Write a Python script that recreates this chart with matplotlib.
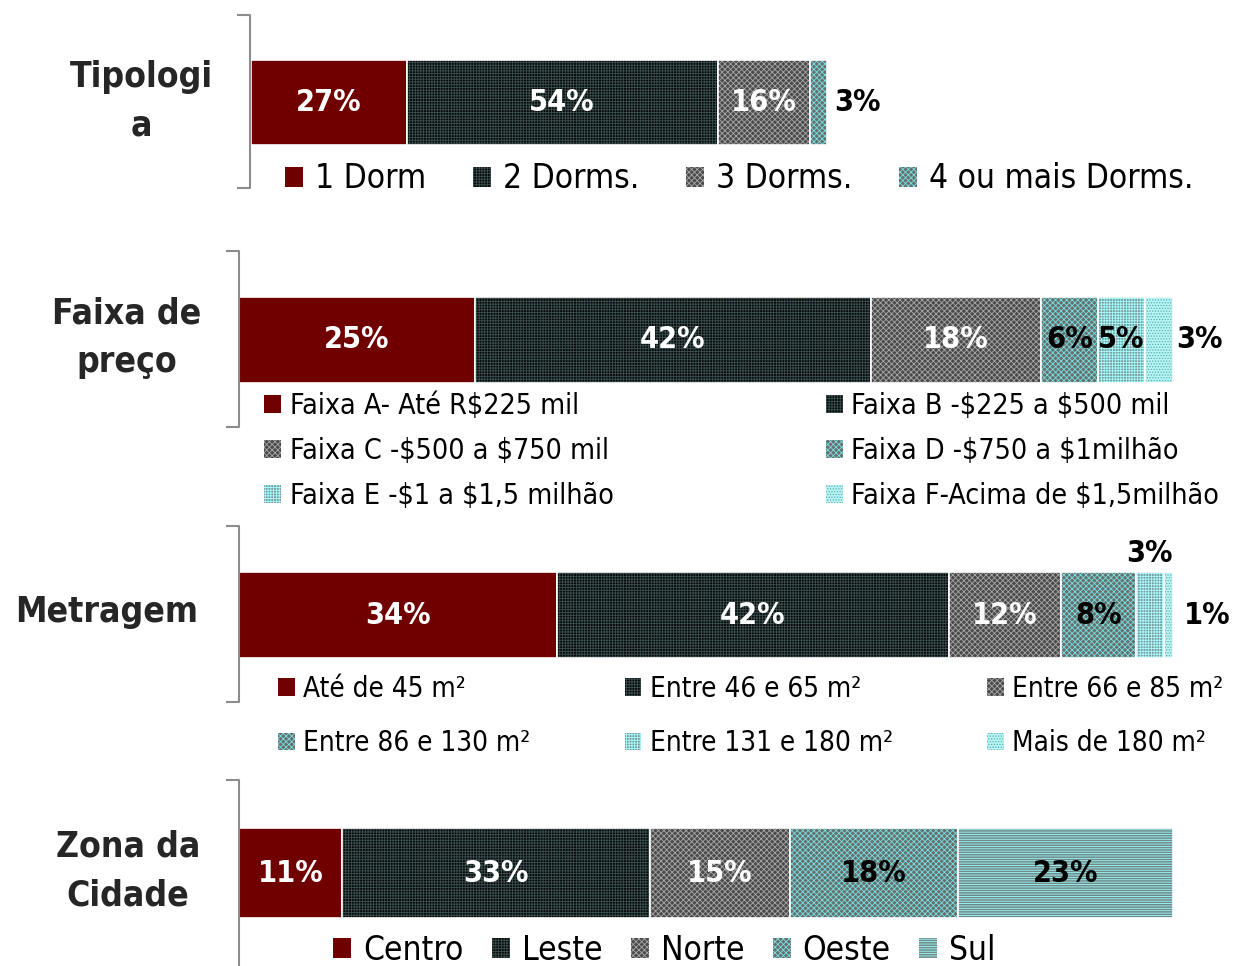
import matplotlib
matplotlib.use("Agg")
import matplotlib.pyplot as plt
from matplotlib.lines import Line2D

plt.rcParams['font.family'] = ['DejaVu Sans']
plt.rcParams['font.stretch'] = 'condensed'
plt.rcParams['text.parse_math'] = False
plt.rcParams['hatch.linewidth'] = 0.6

# data
tipologia_labels = ['1 Dorm', '2 Dorms.', '3 Dorms.', '4 ou mais Dorms.']
tipologia_vals = [27, 54, 16, 3]

preco_labels = ['Faixa A- Até R$225 mil', 'Faixa B -$225 a $500 mil',
                'Faixa C -$500 a $750 mil', 'Faixa D -$750 a $1milhão',
                'Faixa E -$1 a $1,5 milhão', 'Faixa F-Acima de $1,5milhão']
preco_vals = [25, 42, 18, 6, 5, 3]

metragem_labels = ['Até de 45 m²', 'Entre 46 e 65 m²', 'Entre 66 e 85 m²',
                   'Entre 86 e 130 m²', 'Entre 131 e 180 m²', 'Mais de 180 m²']
metragem_vals = [34, 42, 12, 8, 3, 1]

zona_labels = ['Centro', 'Leste', 'Norte', 'Oeste', 'Sul']
zona_vals = [11, 33, 15, 18, 23]

# styles: (face, hatch, hatch colour)
RED = ('#700000', None, '#700000')
BLK = ('#080808', '++++++', '#3a5050')
GRY = ('#4a4a4a', 'xxxxxx', '#a8a8a8')
CYG = ('#686e6e', 'xxxxxx', '#78e0e0')
CYL = ('#7a9c9c', '++++++', '#a8ffff')
CYD = ('#b8f4f4', '......', '#55b0b0')
CYH = ('#708888', '-------', '#a0ffff')

W, H = 1235, 966
fig = plt.figure(figsize=(W / 100, H / 100), dpi=100)


def px_axes(x0, y0, x1, y1):
    ax = fig.add_axes([x0 / W, 1 - y1 / H, (x1 - x0) / W, (y1 - y0) / H])
    ax.axis('off')
    return ax


def bracket(x, y0, y1):
    fig.add_artist(Line2D([(x - 12) / W, x / W, x / W, (x - 12) / W],
                          [1 - y0 / H, 1 - y0 / H, 1 - y1 / H, 1 - y1 / H],
                          transform=fig.transFigure, color='#8c8c8c', lw=1.5))


def draw_bar(ax, vals, styles):
    left = 0
    patches = []
    for v, (fc, hatch, hc) in zip(vals, styles):
        b = ax.barh(0.5, v, left=left, height=1, color=fc, hatch=hatch,
                    edgecolor=hc, linewidth=0)
        ax.barh(0.5, v, left=left, height=1, facecolor='none',
                edgecolor='white', linewidth=1.2)
        patches.append(b[0])
        left += v
    ax.set_xlim(0, sum(vals))
    ax.set_ylim(0, 1)
    return patches


def seg_centers(vals):
    out, left = [], 0
    for v in vals:
        out.append(left + v / 2)
        left += v
    return out


def title(x, y, s):
    fig.text(x / W, 1 - y / H, s, ha='center', va='center', fontsize=25.5,
             fontweight='bold', color='#262626', linespacing=1.55)


VFS = 22

# ---- Tipologia
title(141, 101, 'Tipologi\na')
bracket(250, 15, 188)
ax1 = px_axes(251, 60, 827, 145)
st1 = [RED, BLK, GRY, CYG]
h1 = draw_bar(ax1, tipologia_vals, st1)
for i, (c, v) in enumerate(zip(seg_centers(tipologia_vals), tipologia_vals)):
    if i < 3:
        ax1.text(c, 0.5, f'{v}%', ha='center', va='center', color='white',
                 fontsize=VFS, fontweight='bold')
    else:
        ax1.text(sum(tipologia_vals) + 1.2, 0.5, f'{v}%', ha='left', va='center',
                 color='black', fontsize=VFS, fontweight='bold', clip_on=False)
fig.legend(h1, tipologia_labels, loc='center left', bbox_to_anchor=(285 / W, 1 - 179 / H),
           ncol=4, frameon=False, fontsize=24, handlelength=0.55, handleheight=0.55,
           handletextpad=0.35, columnspacing=1.4, borderpad=0, borderaxespad=0)

# ---- Faixa de preco
title(127, 338, 'Faixa de\npreço')
bracket(239, 251, 427)
ax2 = px_axes(239, 297, 1173, 383)
st2 = [RED, BLK, GRY, CYG, CYL, CYD]
h2 = draw_bar(ax2, preco_vals, st2)
for i, (c, v) in enumerate(zip(seg_centers(preco_vals), preco_vals)):
    if i < 3:
        ax2.text(c, 0.5, f'{v}%', ha='center', va='center', color='white',
                 fontsize=VFS, fontweight='bold')
    elif i < 5:
        ax2.text(c, 0.5, f'{v}%', ha='center', va='center', color='black',
                 fontsize=VFS, fontweight='bold')
    else:
        ax2.text(sum(preco_vals) + 0.3, 0.5, f'{v}%', ha='left', va='center',
                 color='black', fontsize=VFS, fontweight='bold', clip_on=False)
order2 = [0, 2, 4, 1, 3, 5]
fig.legend([h2[i] for i in order2], [preco_labels[i] for i in order2],
           loc='center left', bbox_to_anchor=(264 / W, 1 - 451 / H), ncol=2,
           frameon=False, fontsize=20.5, handlelength=0.6, handleheight=0.6,
           handletextpad=0.3, columnspacing=7.45, labelspacing=0.6,
           borderpad=0, borderaxespad=0)

# ---- Metragem
title(107, 612, 'Metragem')
bracket(239, 526, 702)
ax3 = px_axes(239, 572, 1173, 658)
st3 = [RED, BLK, GRY, CYG, CYL, CYD]
h3 = draw_bar(ax3, metragem_vals, st3)
cen3 = seg_centers(metragem_vals)
for i, (c, v) in enumerate(zip(cen3, metragem_vals)):
    if i < 3:
        ax3.text(c, 0.5, f'{v}%', ha='center', va='center', color='white',
                 fontsize=VFS, fontweight='bold')
    elif i == 3:
        ax3.text(c, 0.5, f'{v}%', ha='center', va='center', color='black',
                 fontsize=VFS, fontweight='bold')
    elif i == 4:
        ax3.text(c, 1.22, f'{v}%', ha='center', va='center', color='black',
                 fontsize=VFS, fontweight='bold', clip_on=False)
    else:
        ax3.text(sum(metragem_vals) + 1.2, 0.5, f'{v}%', ha='left', va='center',
                 color='black', fontsize=VFS, fontweight='bold', clip_on=False)
order3 = [0, 3, 1, 4, 2, 5]
fig.legend([h3[i] for i in order3], [metragem_labels[i] for i in order3],
           loc='center left', bbox_to_anchor=(278 / W, 1 - 716 / H), ncol=3,
           frameon=False, fontsize=20, handlelength=0.6, handleheight=0.6,
           handletextpad=0.3, columnspacing=3.4, labelspacing=0.95,
           borderpad=0, borderaxespad=0)

# ---- Zona da Cidade
title(128, 871, 'Zona da\nCidade')
bracket(239, 780, 975)
ax4 = px_axes(239, 828, 1173, 918)
st4 = [RED, BLK, GRY, CYG, CYH]
h4 = draw_bar(ax4, zona_vals, st4)
for i, (c, v) in enumerate(zip(seg_centers(zona_vals), zona_vals)):
    ax4.text(c, 0.5, f'{v}%', ha='center', va='center',
             color='white' if i < 3 else 'black', fontsize=VFS, fontweight='bold')
fig.legend(h4, zona_labels, loc='center left', bbox_to_anchor=(333 / W, 1 - 950 / H),
           ncol=5, frameon=False, fontsize=24, handlelength=0.55, handleheight=0.55,
           handletextpad=0.35, columnspacing=0.85, borderpad=0, borderaxespad=0)

fig.savefig('out.png', dpi=100, facecolor='white')
